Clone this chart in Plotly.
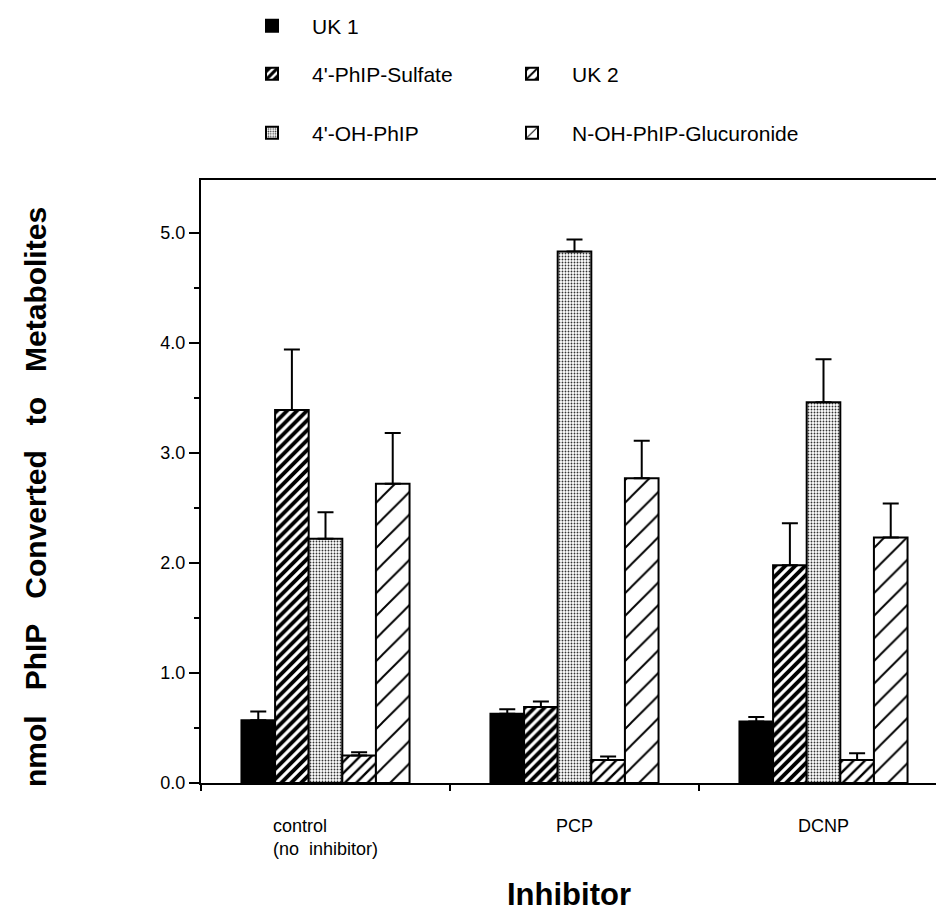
import plotly.graph_objects as go

# Inhibitor treatments on the x axis
inhibitors = ["control", "PCP", "DCNP"]
inhibitor_labels = ["control<br>(no  inhibitor)", "PCP", "DCNP"]

# Metabolite series (nmol PhIP converted), with upper error bars
uk1 = [0.57, 0.63, 0.56]
uk1_err = [0.08, 0.04, 0.04]
sulfate = [3.39, 0.69, 1.98]
sulfate_err = [0.55, 0.05, 0.38]
oh_phip = [2.22, 4.83, 3.46]
oh_phip_err = [0.24, 0.11, 0.39]
uk2 = [0.25, 0.21, 0.21]
uk2_err = [0.03, 0.03, 0.06]
glucuronide = [2.72, 2.77, 2.23]
glucuronide_err = [0.46, 0.34, 0.31]

y_ticks = [0, 1, 2, 3, 4, 5]

FONT = "Liberation Sans, Arial, Helvetica, sans-serif"
W, H = 936, 917
L, R, T, B = 201, 0, 180, 134  # margins in px


def px_x(px):
    return (px - L) / (W - L - R)


def px_y(py):
    return (H - B - py) / (H - T - B)


series = [
    ("UK 1", uk1, uk1_err, dict(shape=""), "black", "legend"),
    ("4'-PhIP-Sulfate", sulfate, sulfate_err,
     dict(shape="/", size=7, solidity=0.55, fgcolor="black", bgcolor="white", fgopacity=1),
     "white", "legend2"),
    ("4'-OH-PhIP", oh_phip, oh_phip_err,
     dict(shape=".", size=3, solidity=0.3, fgcolor="#333333", bgcolor="white", fgopacity=1),
     "white", "legend4"),
    ("UK 2", uk2, uk2_err,
     dict(shape="/", size=8, solidity=0.3, fgcolor="black", bgcolor="white", fgopacity=1),
     "white", "legend3"),
    ("N-OH-PhIP-Glucuronide", glucuronide, glucuronide_err,
     dict(shape="/", size=16, solidity=0.12, fgcolor="black", bgcolor="white", fgopacity=1),
     "white", "legend5"),
]

fig = go.Figure()
for name, vals, err, pattern, color, leg in series:
    fig.add_trace(go.Bar(
        name=name,
        x=inhibitors,
        y=vals,
        marker=dict(color=color, pattern=pattern, line=dict(color="black", width=2)),
        error_y=dict(type="data", array=err, arrayminus=[0] * len(err), symmetric=False,
                     color="black", thickness=2, width=8),
        legend=leg,
        showlegend=True,
    ))


def legend_at(px, py):
    return dict(x=px_x(px), y=px_y(py), xref="paper", yref="paper",
                xanchor="left", yanchor="middle", bgcolor="rgba(0,0,0,0)",
                itemwidth=70, borderwidth=0,
                font=dict(family=FONT, size=21, color="black"))


fig.update_layout(
    width=W, height=H,
    showlegend=True,
    margin=dict(l=L, r=R, t=T, b=B, autoexpand=False),
    paper_bgcolor="white", plot_bgcolor="white",
    barmode="group", bargap=0.325, bargroupgap=0,
    font=dict(family=FONT, size=18, color="black"),
    legend=legend_at(232, 26),
    legend2=legend_at(232, 74),
    legend3=legend_at(492, 74),
    legend4=legend_at(232, 133),
    legend5=legend_at(492, 133),
    xaxis=dict(
        type="category", categoryorder="array", categoryarray=inhibitors,
        range=[-0.5, -0.5 + 735 / 249],
        showline=True, linecolor="black", linewidth=2, mirror=True,
        ticks="outside", tickson="boundaries", ticklen=6, tickwidth=2, tickcolor="black",
        showticklabels=False, showgrid=False, zeroline=False,
    ),
    yaxis=dict(
        range=[0, 5.48], tickvals=y_ticks, tickformat=".1f",
        showline=True, linecolor="black", linewidth=2,
        ticks="outside", ticklen=10, tickwidth=2, tickcolor="black",
        minor=dict(dtick=0.5, ticks="outside", ticklen=5, tickwidth=2, tickcolor="black"),
        showgrid=False, zeroline=False,
        tickfont=dict(family=FONT, size=18),
    ),
)

# Category labels under each group
for cat, lab in zip(inhibitors, inhibitor_labels):
    fig.add_annotation(x=cat, xref="x", y=px_y(814), yref="paper",
                       text=lab, showarrow=False, align="left",
                       xanchor="center", yanchor="top",
                       font=dict(family=FONT, size=18))

fig.add_annotation(text="<b>Inhibitor</b>", x=px_x(569), y=px_y(894),
                   xref="paper", yref="paper", showarrow=False,
                   xanchor="center", yanchor="middle",
                   font=dict(family=FONT, size=31))

gap = "\u00a0\u00a0\u00a0"
ytitle = gap.join(["nmol", "PhIP", "Converted", "to", "Metabolites"])
fig.add_annotation(text=f"<b>{ytitle}</b>",
                   x=px_x(36), y=px_y(497), xref="paper", yref="paper",
                   showarrow=False, textangle=-90, xanchor="center", yanchor="middle",
                   font=dict(family=FONT, size=30))

fig.write_html("out.html")
